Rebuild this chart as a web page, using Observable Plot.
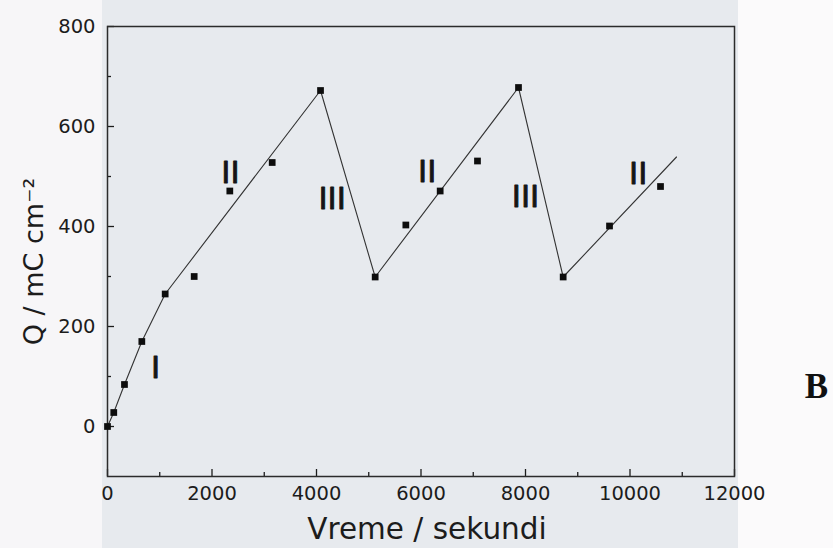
<!DOCTYPE html>
<html>
<head>
<meta charset="utf-8">
<script src="https://cdn.jsdelivr.net/npm/d3@7"></script>
<script src="https://cdn.jsdelivr.net/npm/@observablehq/plot@0.6"></script>
<style>
  html, body { margin: 0; padding: 0; }
  body {
    width: 833px; height: 548px; overflow: hidden;
    background: linear-gradient(to right, #f7f6f8 0, #f7f6f8 102px, #e7eaee 102px, #e7eaee 738px, #fbfafb 738px);
  }
  svg { display: block; }
</style>
</head>
<body>
<div id="chart"></div>
<script>
// Measured charge vs. time
const time   = [0, 120, 325, 657, 1104, 1659, 2341, 3152, 4077, 5123, 5710, 6367, 7081, 7866, 8721, 9608, 10584];
const charge = [0, 28, 84, 170, 265, 300, 471, 528, 672, 299, 403, 471, 531, 678, 299, 401, 480];

// Fitted segments (stages I, II, III)
const fitTime   = [0, 120, 325, 657, 1104, 4077, 5123, 7866, 8721, 10890];
const fitCharge = [0, 28, 84, 170, 265, 672, 299, 678, 299, 539];

// Stage annotations
const stageLabels = ["I", "II", "III", "II", "III", "II"];
const stageTime   = [919, 2354, 4300, 6119, 8000, 10157];
const stageCharge = [116, 506, 455, 509, 459, 505];

// Ticks
const xMajor = [0, 2000, 4000, 6000, 8000, 10000, 12000];
const xMinor = [1000, 3000, 5000, 7000, 9000, 11000];
const yMajor = [0, 200, 400, 600, 800];
const yMinor = [100, 300, 500, 700];

const W = 833, H = 548;
const mL = 107, mR = 99, mT = 26, mB = 72;
const plotW = W - mL - mR, plotH = H - mT - mB;
const ink = "#1c1c1c";

const points = time.map((t, i) => ({t, q: charge[i]}));
const fit = fitTime.map((t, i) => ({t, q: fitCharge[i]}));
const stages = stageLabels.map((s, i) => ({s, t: stageTime[i], q: stageCharge[i]}));

const chart = Plot.plot({
  width: W, height: H,
  marginLeft: mL, marginRight: mR, marginTop: mT, marginBottom: mB,
  style: {background: "transparent", fontFamily: "DejaVu Sans", color: ink},
  x: {domain: [0, 12000]},
  y: {domain: [-100, 800]},
  marks: [
    // inward ticks
    Plot.tickX(xMajor, {x: d => d, insetTop: plotH - 7, stroke: ink, strokeWidth: 1.3}),
    Plot.tickX(xMinor, {x: d => d, insetTop: plotH - 4, stroke: ink, strokeWidth: 1.3}),
    Plot.tickY(yMajor, {y: d => d, insetRight: plotW - 7, stroke: ink, strokeWidth: 1.3}),
    Plot.tickY(yMinor, {y: d => d, insetRight: plotW - 4, stroke: ink, strokeWidth: 1.3}),
    Plot.axisX(xMajor, {tickSize: 0, tickPadding: 10, fontSize: 19.5, fill: ink, tickFormat: d => String(d), label: null}),
    Plot.axisY(yMajor, {tickSize: 0, tickPadding: 12, fontSize: 19.5, fill: ink, tickFormat: d => String(d), label: null}),
    Plot.frame({stroke: "#2b2b2b", strokeWidth: 1.5}),
    Plot.line(fit, {x: "t", y: "q", stroke: "#333", strokeWidth: 1.1}),
    Plot.dot(points, {x: "t", y: "q", symbol: "square", r: 3.8, fill: "#0d0d0d", stroke: "none"}),
    Plot.text(stages, {x: "t", y: "q", text: "s", fontSize: 31, fill: "#151515", stroke: "#151515", strokeWidth: 0.9, textAnchor: "middle", lineAnchor: "middle"}),
    // axis titles
    Plot.text(["Vreme / sekundi"], {text: d => d, frameAnchor: "bottom", dx: 6, dy: 62, lineAnchor: "bottom", fontSize: 29.5, fill: ink}),
    Plot.text(["Q / mC cm\u207B\u00B2"], {text: d => d, frameAnchor: "left", rotate: -90, dx: -65, dy: 10, lineAnchor: "bottom", textAnchor: "middle", fontSize: 27, fill: ink}),
    // panel letter
    Plot.text(["B"], {text: d => d, frameAnchor: "bottom-right", dx: 82, dy: -79, lineAnchor: "bottom", textAnchor: "middle", fontFamily: "Liberation Serif", fontWeight: "bold", fontSize: 35, fill: "#111"})
  ]
});
document.getElementById("chart").appendChild(chart);
</script>
</body>
</html>
